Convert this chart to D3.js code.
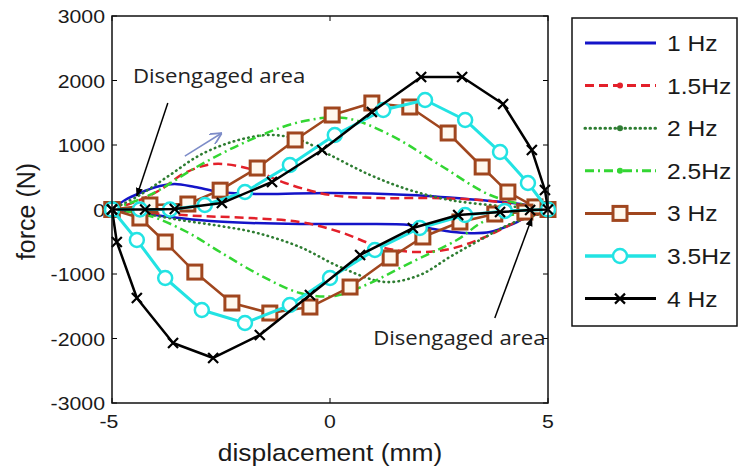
<!DOCTYPE html>
<html>
<head>
<meta charset="utf-8">
<script src="https://cdn.jsdelivr.net/npm/d3@7"></script>
<style>
  body { margin: 0; background: #fff; }
  svg { display: block; font-family: "Liberation Sans", Arial, sans-serif; }
</style>
</head>
<body>
<div id="chart"></div>
<script>
// loops: [displacement mm, force N], upper branch -5 -> 5, then lower branch back to -5
const loop1Hz = [[-5,0],[-4.70,147],[-4.36,256],[-3.90,364],[-3.56,395],[-3.10,349],[-2.52,271],[-1.61,240],[0,256],[1.83,225],[3.44,147],[4.36,85],[5,0],
  [4.66,-54],[4.29,-194],[3.67,-349],[3.10,-364],[2.52,-318],[1.83,-240],[0.69,-225],[-0.69,-225],[-1.83,-209],[-2.75,-178],[-3.67,-116],[-4.36,-54],[-5,0]]
const loop15Hz = [[-5,0],[-4.36,147],[-3.90,302],[-3.33,566],[-2.68,705],[-1.83,628],[-1.03,411],[0,225],[1.15,178],[2.29,178],[3.44,147],[4.36,70],[5,0],
  [4.36,-163],[3.56,-426],[2.75,-612],[1.95,-659],[1.15,-581],[0.23,-349],[-0.69,-194],[-1.83,-132],[-2.98,-101],[-4.13,-54],[-5,0]]
const loop2Hz = [[-5,0],[-4.36,225],[-3.67,535],[-2.98,845],[-2.18,1062],[-1.38,1155],[-0.69,1078],[0,845],[0.92,535],[1.83,302],[2.75,147],[3.90,54],[5,0],
  [4.13,-225],[3.44,-473],[2.75,-736],[2.06,-1016],[1.26,-1124],[0.23,-891],[-0.69,-581],[-1.67,-364],[-2.52,-256],[-3.44,-163],[-4.36,-54],[-5,0]]
const loop25Hz = [[-5,0],[-4.13,225],[-2.98,690],[-1.83,1078],[-0.69,1357],[0.34,1419],[1.38,1155],[2.52,690],[3.67,225],[4.59,54],[5,0],
  [3.60,-163],[2.91,-473],[1.83,-830],[0.92,-1140],[0.11,-1341],[-0.69,-1295],[-1.61,-1016],[-2.52,-659],[-3.28,-349],[-4.13,-101],[-5,0]]
const loop3Hz = [[-5,0],[-4.13,70],[-3.26,85],[-2.52,300],[-1.67,643],[-0.80,1078],[0.05,1465],[0.96,1651],[1.83,1589],[2.71,1186],[3.49,659],[4.08,271],[4.70,40],[5,0],
  [4.47,-40],[3.78,-70],[2.98,-194],[2.13,-426],[1.38,-752],[0.46,-1202],[-0.46,-1512],[-1.38,-1605],[-2.25,-1450],[-3.10,-970],[-3.78,-504],[-4.36,-132],[-5,0]]
const loop35Hz = [[-5,0],[-4.36,0],[-3.67,0],[-2.87,70],[-1.95,271],[-0.92,690],[0.11,1155],[1.22,1543],[2.18,1698],[3.10,1388],[3.90,891],[4.54,411],[5,0],
  [4.01,-23],[3.10,-85],[2.06,-287],[1.03,-628],[0,-1062],[-0.92,-1481],[-1.95,-1760],[-2.94,-1558],[-3.78,-1062],[-4.43,-473],[-5,0]]
const loop4Hz = [[-5,0],[-4.24,0],[-3.56,8],[-2.48,100],[-1.33,426],[-0.18,922],[0.96,1512],[2.09,2054],[3.03,2054],[3.97,1636],[4.63,922],[4.93,302],[5,0],
  [4.59,-8],[3.90,-40],[2.94,-85],[1.90,-287],[0.69,-705],[-0.46,-1326],[-1.61,-1946],[-2.68,-2302],[-3.60,-2070],[-4.43,-1372],[-4.89,-504],[-5,0]]

const seriesNames = ['1 Hz', '1.5Hz', '2 Hz', '2.5Hz', '3 Hz', '3.5Hz', '4 Hz']
const xTicks = [-5, 0, 5]
const yTicks = [-3000, -2000, -1000, 0, 1000, 2000, 3000]

// annotations [x, F]
const arrowTop = [[-3.72, 1651], [-4.43, 209]]
const arrowBottom = [[3.78, -1682], [4.63, -132]]
const arrowBlue = [[-3.33, 829], [-2.48, 1186]]
const noteTop = [-4.52, 1961]
const noteBottom = [0.99, -2100]

const series = [
  {name: seriesNames[0], data: loop1Hz, color: '#1414c8', width: 2.5, dash: null, curve: d3.curveCatmullRom},
  {name: seriesNames[1], data: loop15Hz, color: '#e3202a', width: 2.5, dash: '9,5', curve: d3.curveCatmullRom},
  {name: seriesNames[2], data: loop2Hz, color: '#2e7d32', width: 2.6, dash: '0.5,4.5', cap: 'round', curve: d3.curveCatmullRom},
  {name: seriesNames[3], data: loop25Hz, color: '#33d633', width: 2.5, dash: '9,4,2,4', curve: d3.curveCatmullRom},
  {name: seriesNames[4], data: loop3Hz, color: '#a0461e', width: 2.5, dash: null, curve: d3.curveLinear, marker: 'square'},
  {name: seriesNames[5], data: loop35Hz, color: '#22e3e3', width: 3, dash: null, curve: d3.curveLinear, marker: 'circle'},
  {name: seriesNames[6], data: loop4Hz, color: '#000000', width: 2.5, dash: null, curve: d3.curveLinear, marker: 'cross'}
]

const width = 741, height = 469
const plot = {left: 112, top: 16, right: 548, bottom: 403}

const svg = d3.select('#chart').append('svg')
  .attr('width', width).attr('height', height)

const xScale = d3.scaleLinear().domain([-5, 5]).range([plot.left, plot.right])
const yScale = d3.scaleLinear().domain([-3000, 3000]).range([plot.bottom, plot.top])

const stretchText = (g, x, y, str, size, anchor, sx = 1.1) => g.append('text')
  .attr('transform', `translate(${x},${y}) scale(${sx},1)`)
  .attr('text-anchor', anchor)
  .style('font-size', size + 'px')
  .attr('fill', '#1a1a1a')
  .text(str)

// axes (ticks inward, box style)
const tickLen = 5
const axes = svg.append('g').attr('class', 'axes')
yTicks.forEach((t) => {
  axes.append('line').attr('x1', plot.left).attr('x2', plot.left + tickLen)
    .attr('y1', yScale(t)).attr('y2', yScale(t)).attr('stroke', '#000')
  axes.append('line').attr('x1', plot.right).attr('x2', plot.right - tickLen)
    .attr('y1', yScale(t)).attr('y2', yScale(t)).attr('stroke', '#000')
  stretchText(axes, plot.left - 7, yScale(t) + 7, String(t), 19, 'end', 1.12)
})
xTicks.forEach((t) => {
  axes.append('line').attr('x1', xScale(t)).attr('x2', xScale(t))
    .attr('y1', plot.bottom).attr('y2', plot.bottom - tickLen).attr('stroke', '#000')
  axes.append('line').attr('x1', xScale(t)).attr('x2', xScale(t))
    .attr('y1', plot.top).attr('y2', plot.top + tickLen).attr('stroke', '#000')
  stretchText(axes, xScale(t) - (t < 0 ? 3 : 0), 428, String(t), 19, 'middle', 1.12)
})

stretchText(svg, (plot.left + plot.right) / 2, 461, 'displacement (mm)', 24, 'middle', 1.1)
svg.append('text')
  .attr('transform', `translate(35,${(plot.top + plot.bottom) / 2 + 2}) rotate(-90)`)
  .attr('text-anchor', 'middle')
  .style('font-size', '25px')
  .attr('fill', '#1a1a1a')
  .text('force (N)')

// curves
const lineGen = (curve) => d3.line()
  .x((d) => xScale(d[0]))
  .y((d) => yScale(d[1]))
  .curve(curve)

const drawMarker = (g, kind, x, y, color) => {
  if (kind === 'square') {
    g.append('rect').attr('x', x - 7).attr('y', y - 7).attr('width', 14).attr('height', 14)
      .attr('fill', '#fff8ee').attr('stroke', color).attr('stroke-width', 3)
  } else if (kind === 'circle') {
    g.append('circle').attr('cx', x).attr('cy', y).attr('r', 7)
      .attr('fill', '#fff').attr('stroke', color).attr('stroke-width', 2.5)
  } else if (kind === 'cross') {
    g.append('path').attr('d', `M${x - 5},${y - 5}L${x + 5},${y + 5}M${x - 5},${y + 5}L${x + 5},${y - 5}`)
      .attr('stroke', color).attr('stroke-width', 2.2)
  } else if (kind === 'dot') {
    g.append('circle').attr('cx', x).attr('cy', y).attr('r', 3).attr('fill', color)
  }
}

const curves = svg.append('g').attr('class', 'curves')
series.forEach((s) => {
  const g = curves.append('g')
  g.append('path')
    .attr('d', lineGen(s.curve)(s.data))
    .attr('fill', 'none')
    .attr('stroke', s.color)
    .attr('stroke-width', s.width)
    .attr('stroke-dasharray', s.dash)
    .attr('stroke-linecap', s.cap || 'butt')
    .attr('stroke-linejoin', 'round')
  if (s.marker) {
    s.data.forEach((d) => drawMarker(g, s.marker, xScale(d[0]), yScale(d[1]), s.color))
  }
})

// frame
svg.append('rect')
  .attr('x', plot.left).attr('y', plot.top)
  .attr('width', plot.right - plot.left).attr('height', plot.bottom - plot.top)
  .attr('fill', 'none').attr('stroke', '#111').attr('stroke-width', 1.5)

// annotations
const defs = svg.append('defs')
defs.append('marker').attr('id', 'head').attr('viewBox', '0 0 10 10')
  .attr('refX', 9).attr('refY', 5).attr('markerWidth', 9).attr('markerHeight', 9)
  .attr('markerUnits', 'userSpaceOnUse').attr('orient', 'auto')
  .append('path').attr('d', 'M0,1L10,5L0,9Z').attr('fill', '#000')
defs.append('marker').attr('id', 'openhead').attr('viewBox', '0 0 10 10')
  .attr('refX', 10).attr('refY', 5).attr('markerWidth', 12).attr('markerHeight', 12)
  .attr('markerUnits', 'userSpaceOnUse').attr('orient', 'auto')
  .append('path').attr('d', 'M0,0L10,5L0,10').attr('fill', 'none').attr('stroke', '#7d8cc8').attr('stroke-width', 1.5)

const notes = svg.append('g').attr('class', 'notes')
;[arrowTop, arrowBottom].forEach((a) => {
  notes.append('line')
    .attr('x1', xScale(a[0][0])).attr('y1', yScale(a[0][1]))
    .attr('x2', xScale(a[1][0])).attr('y2', yScale(a[1][1]))
    .attr('stroke', '#000').attr('stroke-width', 1.5).attr('marker-end', 'url(#head)')
})
notes.append('line')
  .attr('x1', xScale(arrowBlue[0][0])).attr('y1', yScale(arrowBlue[0][1]))
  .attr('x2', xScale(arrowBlue[1][0])).attr('y2', yScale(arrowBlue[1][1]))
  .attr('stroke', '#7d8cc8').attr('stroke-width', 1.5).attr('marker-end', 'url(#openhead)')

;[noteTop, noteBottom].forEach((n) => {
  notes.append('text')
    .attr('transform', `translate(${xScale(n[0])},${yScale(n[1])}) scale(1.08,1)`)
    .style('font-family', '"Open Sans", sans-serif')
    .style('font-size', '20.5px')
    .attr('fill', '#222')
    .text('Disengaged area')
})

// legend
const legend = svg.append('g').attr('class', 'legend')
legend.append('rect').attr('x', 572).attr('y', 18).attr('width', 165).attr('height', 308)
  .attr('fill', '#fff').attr('stroke', '#111').attr('stroke-width', 1.5)
const legendMarkers = [null, 'dot', 'dot', 'dot', 'square', 'circle', 'cross']
series.forEach((s, i) => {
  const y = 43 + i * 42.6
  legend.append('line').attr('x1', 585).attr('x2', 656).attr('y1', y).attr('y2', y)
    .attr('stroke', s.color).attr('stroke-width', s.width + 0.5)
    .attr('stroke-dasharray', s.dash).attr('stroke-linecap', s.cap || 'butt')
  if (legendMarkers[i]) drawMarker(legend, legendMarkers[i], 620, y, s.color)
  stretchText(legend, 667, y + 8, s.name, 22, 'start', 1.12)
})
</script>
</body>
</html>
